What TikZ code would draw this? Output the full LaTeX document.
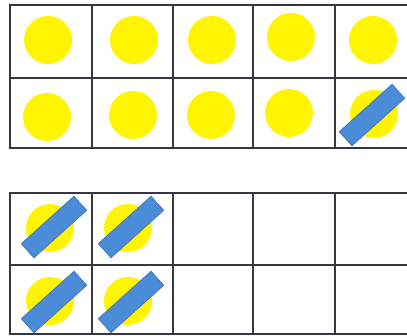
\documentclass[tikz,border=0pt]{standalone}
\definecolor{barblue}{RGB}{74,140,216}
\definecolor{baredge}{RGB}{58,108,176}
\definecolor{gridline}{RGB}{55,55,65}
\definecolor{dotyellow}{RGB}{255,245,0}
\begin{document}
\begin{tikzpicture}[x=1pt,y=-1pt,
  gridstyle/.style={draw=gridline,line width=1.3pt},
  counter/.style={circle,fill=dotyellow,minimum size=48pt,inner sep=0pt},
  eraser/.style={rectangle,fill=barblue,draw=baredge,line width=0.6pt,minimum width=71pt,minimum height=19pt,inner sep=0pt,rotate=42}]
\useasboundingbox (0,0) rectangle (407,336);
\clip (0,0) rectangle (407,336);
% top ten-frame
\draw[gridstyle] (10,5) rectangle (416,148);
\draw[gridstyle] (10,78) -- (416,78);
\foreach \x in {92,173,253,335} \draw[gridstyle] (\x,5) -- (\x,148);
% bottom ten-frame
\draw[gridstyle] (10,193) rectangle (416,334);
\draw[gridstyle] (10,265) -- (416,265);
\foreach \x in {92,173,253,335} \draw[gridstyle] (\x,193) -- (\x,334);
% counters top frame
\node[counter] (t1) at (48,40) {};
\node[counter] (t2) at (134,40) {};
\node[counter] (t3) at (212,40) {};
\node[counter] (t4) at (291,37) {};
\node[counter] (t5) at (373,40) {};
\node[counter] (t6) at (47,117) {};
\node[counter] (t7) at (133,115) {};
\node[counter] (t8) at (211,115) {};
\node[counter] (t9) at (289,113) {};
\node[counter] (t10) at (374,114) {};
\node[eraser] (e10) at (372,115) {};
% bottom frame
\node[counter] (b1) at (50,228) {};
\node[counter] (b2) at (128,228) {};
\node[counter] (b3) at (50,301) {};
\node[counter] (b4) at (128,301) {};
\node[eraser] (f1) at (54,227) {};
\node[eraser] (f2) at (131,227) {};
\node[eraser] (f3) at (54,302) {};
\node[eraser] (f4) at (131,302) {};
\end{tikzpicture}
\end{document}
